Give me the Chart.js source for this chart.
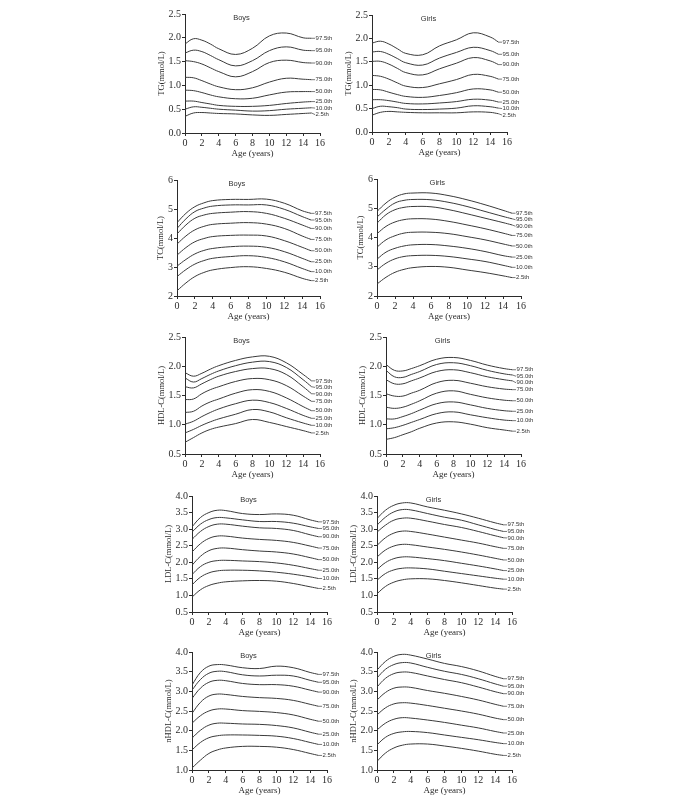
<!DOCTYPE html>
<html>
<head>
<meta charset="utf-8">
<script src="https://cdn.jsdelivr.net/npm/chart.js@4.4.0/dist/chart.umd.min.js"></script>
<style>
  html, body { margin: 0; padding: 0; background: #fff; }
  #page { position: relative; width: 680px; height: 799px; background: #fff; }
  .panel { position: absolute; }
</style>
</head>
<body>
<div id="page"></div>
<script>
// Ages at which each curve is sampled
const ages = [0, 1, 2, 3, 4, 6, 8, 10, 12, 14, 15];
const pctLabels = ['97.5th', '95.0th', '90.0th', '75.0th', '50.0th', '25.0th', '10.0th', '2.5th'];

// TG (mmol/L), rows = percentiles 97.5 -> 2.5
const tgBoys = [
    [1.87, 1.98, 1.95, 1.87, 1.77, 1.65, 1.78, 2.04, 2.10, 2.00, 1.99],
    [1.68, 1.74, 1.71, 1.63, 1.54, 1.41, 1.52, 1.73, 1.81, 1.74, 1.73],
    [1.52, 1.50, 1.45, 1.37, 1.29, 1.18, 1.29, 1.48, 1.53, 1.48, 1.47],
    [1.17, 1.16, 1.10, 1.03, 0.97, 0.91, 0.95, 1.07, 1.15, 1.13, 1.12],
    [0.90, 0.89, 0.85, 0.80, 0.76, 0.72, 0.73, 0.80, 0.86, 0.87, 0.87],
    [0.67, 0.67, 0.64, 0.61, 0.58, 0.56, 0.56, 0.58, 0.62, 0.65, 0.66],
    [0.50, 0.55, 0.54, 0.52, 0.50, 0.48, 0.46, 0.47, 0.50, 0.52, 0.53],
    [0.35, 0.42, 0.43, 0.42, 0.41, 0.40, 0.38, 0.37, 0.39, 0.41, 0.42]
];
const tgGirls = [
    [1.90, 1.94, 1.88, 1.78, 1.68, 1.65, 1.84, 1.97, 2.12, 2.03, 1.92],
    [1.71, 1.72, 1.66, 1.57, 1.48, 1.43, 1.58, 1.70, 1.81, 1.74, 1.66],
    [1.51, 1.51, 1.45, 1.36, 1.27, 1.22, 1.35, 1.47, 1.59, 1.52, 1.44],
    [1.21, 1.19, 1.13, 1.05, 0.98, 0.95, 1.03, 1.12, 1.23, 1.19, 1.13],
    [0.91, 0.90, 0.85, 0.80, 0.76, 0.74, 0.78, 0.84, 0.92, 0.90, 0.85],
    [0.69, 0.69, 0.67, 0.64, 0.61, 0.60, 0.62, 0.65, 0.70, 0.68, 0.64],
    [0.50, 0.55, 0.54, 0.52, 0.49, 0.48, 0.49, 0.51, 0.56, 0.54, 0.51],
    [0.36, 0.42, 0.44, 0.43, 0.42, 0.41, 0.41, 0.41, 0.43, 0.42, 0.39]
];

// TC (mmol/L)
const tcBoys = [
    [4.53, 4.85, 5.08, 5.21, 5.29, 5.33, 5.33, 5.34, 5.20, 4.94, 4.85],
    [4.33, 4.66, 4.91, 5.03, 5.10, 5.14, 5.14, 5.14, 4.99, 4.74, 4.62],
    [4.14, 4.45, 4.68, 4.79, 4.85, 4.89, 4.91, 4.85, 4.68, 4.45, 4.33],
    [3.79, 4.07, 4.28, 4.40, 4.47, 4.51, 4.53, 4.48, 4.33, 4.07, 3.95],
    [3.41, 3.67, 3.87, 3.98, 4.05, 4.09, 4.10, 4.07, 3.91, 3.68, 3.56],
    [3.03, 3.26, 3.45, 3.57, 3.64, 3.70, 3.72, 3.68, 3.53, 3.30, 3.18],
    [2.67, 2.91, 3.10, 3.22, 3.30, 3.36, 3.39, 3.33, 3.18, 2.95, 2.84],
    [2.18, 2.45, 2.67, 2.81, 2.90, 2.98, 3.01, 2.95, 2.82, 2.61, 2.53]
];
const tcGirls = [
    [4.89, 5.18, 5.38, 5.49, 5.52, 5.52, 5.43, 5.29, 5.12, 4.93, 4.83],
    [4.70, 4.97, 5.18, 5.27, 5.30, 5.29, 5.20, 5.06, 4.89, 4.72, 4.64],
    [4.49, 4.78, 4.95, 5.03, 5.06, 5.05, 4.95, 4.81, 4.66, 4.51, 4.43],
    [4.13, 4.38, 4.53, 4.61, 4.64, 4.63, 4.55, 4.43, 4.30, 4.15, 4.07],
    [3.67, 3.92, 4.06, 4.15, 4.18, 4.18, 4.13, 4.03, 3.92, 3.78, 3.71],
    [3.26, 3.50, 3.63, 3.71, 3.75, 3.76, 3.71, 3.63, 3.52, 3.38, 3.33],
    [2.89, 3.12, 3.27, 3.35, 3.38, 3.39, 3.35, 3.27, 3.18, 3.05, 2.98],
    [2.41, 2.64, 2.81, 2.91, 2.97, 3.01, 2.98, 2.89, 2.80, 2.69, 2.63]
];

// HDL-C (mmol/L)
const hdlBoys = [
    [1.89, 1.83, 1.88, 1.95, 2.01, 2.10, 2.16, 2.17, 2.06, 1.86, 1.75],
    [1.80, 1.73, 1.79, 1.86, 1.92, 2.01, 2.07, 2.08, 1.98, 1.77, 1.65],
    [1.65, 1.63, 1.70, 1.77, 1.83, 1.91, 1.96, 1.96, 1.86, 1.65, 1.53],
    [1.43, 1.44, 1.53, 1.60, 1.65, 1.74, 1.79, 1.77, 1.67, 1.49, 1.40],
    [1.21, 1.23, 1.32, 1.39, 1.44, 1.54, 1.60, 1.57, 1.46, 1.31, 1.24],
    [1.01, 1.06, 1.14, 1.21, 1.27, 1.36, 1.42, 1.38, 1.28, 1.16, 1.11],
    [0.86, 0.92, 0.99, 1.05, 1.10, 1.18, 1.26, 1.22, 1.12, 1.03, 0.99],
    [0.70, 0.78, 0.86, 0.92, 0.96, 1.02, 1.09, 1.04, 0.97, 0.90, 0.86]
];
const hdlGirls = [
    [2.03, 1.93, 1.92, 1.96, 2.01, 2.12, 2.15, 2.10, 2.02, 1.96, 1.94],
    [1.93, 1.82, 1.81, 1.86, 1.91, 2.03, 2.06, 2.01, 1.93, 1.87, 1.85],
    [1.77, 1.70, 1.70, 1.75, 1.80, 1.91, 1.94, 1.89, 1.82, 1.77, 1.75],
    [1.53, 1.49, 1.49, 1.54, 1.59, 1.72, 1.76, 1.71, 1.65, 1.61, 1.60],
    [1.30, 1.28, 1.30, 1.35, 1.41, 1.54, 1.58, 1.52, 1.46, 1.42, 1.41],
    [1.10, 1.10, 1.14, 1.19, 1.25, 1.36, 1.39, 1.34, 1.28, 1.24, 1.23],
    [0.93, 0.95, 0.99, 1.04, 1.09, 1.19, 1.22, 1.17, 1.12, 1.08, 1.07],
    [0.75, 0.78, 0.83, 0.88, 0.94, 1.03, 1.05, 1.01, 0.95, 0.91, 0.89]
];

// LDL-C (mmol/L)
const ldlBoys = [
    [3.07, 3.35, 3.50, 3.57, 3.56, 3.47, 3.44, 3.46, 3.42, 3.28, 3.22],
    [2.91, 3.15, 3.29, 3.35, 3.34, 3.28, 3.23, 3.23, 3.18, 3.07, 3.02],
    [2.69, 2.93, 3.08, 3.15, 3.15, 3.09, 3.04, 3.02, 2.96, 2.83, 2.77],
    [2.31, 2.56, 2.72, 2.79, 2.79, 2.73, 2.69, 2.66, 2.60, 2.49, 2.43],
    [1.91, 2.18, 2.35, 2.42, 2.43, 2.38, 2.34, 2.31, 2.25, 2.14, 2.08],
    [1.63, 1.87, 2.00, 2.05, 2.06, 2.04, 2.02, 1.98, 1.91, 1.81, 1.76],
    [1.32, 1.55, 1.68, 1.74, 1.76, 1.76, 1.74, 1.70, 1.64, 1.56, 1.51],
    [0.95, 1.17, 1.30, 1.37, 1.41, 1.44, 1.45, 1.43, 1.36, 1.26, 1.21]
];
const ldlGirls = [
    [3.32, 3.57, 3.72, 3.79, 3.79, 3.67, 3.57, 3.46, 3.33, 3.19, 3.13],
    [3.12, 3.36, 3.52, 3.59, 3.58, 3.47, 3.36, 3.27, 3.13, 2.99, 2.93],
    [2.91, 3.12, 3.27, 3.33, 3.33, 3.24, 3.14, 3.05, 2.93, 2.80, 2.74],
    [2.51, 2.74, 2.88, 2.94, 2.93, 2.85, 2.76, 2.67, 2.58, 2.47, 2.42],
    [2.16, 2.37, 2.49, 2.54, 2.53, 2.46, 2.39, 2.31, 2.22, 2.12, 2.07],
    [1.78, 1.99, 2.11, 2.16, 2.16, 2.11, 2.05, 1.97, 1.89, 1.80, 1.75],
    [1.46, 1.66, 1.77, 1.82, 1.83, 1.80, 1.73, 1.66, 1.59, 1.52, 1.49],
    [1.05, 1.27, 1.40, 1.47, 1.50, 1.50, 1.45, 1.38, 1.30, 1.22, 1.19]
];

// nHDL-C (mmol/L)
const nhdlBoys = [
    [3.16, 3.48, 3.64, 3.68, 3.67, 3.60, 3.58, 3.64, 3.60, 3.48, 3.43],
    [3.03, 3.30, 3.46, 3.51, 3.50, 3.42, 3.39, 3.41, 3.39, 3.28, 3.23],
    [2.82, 3.08, 3.23, 3.28, 3.27, 3.20, 3.17, 3.17, 3.13, 3.03, 2.98],
    [2.44, 2.72, 2.88, 2.93, 2.92, 2.87, 2.84, 2.82, 2.77, 2.67, 2.62],
    [2.19, 2.38, 2.50, 2.55, 2.55, 2.51, 2.49, 2.46, 2.40, 2.29, 2.24],
    [1.81, 2.01, 2.14, 2.19, 2.19, 2.17, 2.16, 2.13, 2.07, 1.96, 1.91],
    [1.51, 1.70, 1.82, 1.87, 1.89, 1.89, 1.88, 1.86, 1.80, 1.70, 1.65],
    [1.05, 1.25, 1.42, 1.51, 1.56, 1.60, 1.60, 1.58, 1.52, 1.42, 1.37]
];
const nhdlGirls = [
    [3.54, 3.76, 3.89, 3.94, 3.92, 3.82, 3.71, 3.63, 3.52, 3.38, 3.32],
    [3.34, 3.56, 3.68, 3.73, 3.72, 3.61, 3.51, 3.43, 3.32, 3.19, 3.13],
    [3.11, 3.33, 3.45, 3.49, 3.48, 3.39, 3.30, 3.22, 3.11, 2.99, 2.94],
    [2.78, 2.97, 3.08, 3.11, 3.10, 3.02, 2.95, 2.87, 2.78, 2.67, 2.62],
    [2.40, 2.58, 2.68, 2.71, 2.70, 2.64, 2.57, 2.50, 2.42, 2.32, 2.28],
    [2.02, 2.19, 2.29, 2.33, 2.32, 2.27, 2.21, 2.14, 2.07, 1.98, 1.94],
    [1.64, 1.83, 1.93, 1.97, 1.98, 1.95, 1.89, 1.83, 1.77, 1.70, 1.67],
    [1.22, 1.43, 1.56, 1.63, 1.66, 1.66, 1.61, 1.55, 1.48, 1.40, 1.37]
];

// Panel layout: plot area [left, top, right, bottom] in page pixels
const panels = [
    { rows: tgBoys,    sex: 'Boys',  yTitle: 'TG(mmol/L)',     yMin: 0,   yMax: 2.5, yStep: 0.5, dec: 1, box: [185, 14, 320, 133],  yw: 28 },
    { rows: tgGirls,   sex: 'Girls', yTitle: 'TG(mmol/L)',     yMin: 0,   yMax: 2.5, yStep: 0.5, dec: 1, box: [372, 15, 507, 132],  yw: 28 },
    { rows: tcBoys,    sex: 'Boys',  yTitle: 'TC(mmol/L)',     yMin: 2,   yMax: 6,   yStep: 1,   dec: 0, box: [177, 180, 320, 296], yw: 21 },
    { rows: tcGirls,   sex: 'Girls', yTitle: 'TC(mmol/L)',     yMin: 2,   yMax: 6,   yStep: 1,   dec: 0, box: [377, 179, 521, 296], yw: 21 },
    { rows: hdlBoys,   sex: 'Boys',  yTitle: 'HDL-C(mmol/L)',  yMin: 0.5, yMax: 2.5, yStep: 0.5, dec: 1, box: [185, 337, 320, 454], yw: 28 },
    { rows: hdlGirls,  sex: 'Girls', yTitle: 'HDL-C(mmol/L)',  yMin: 0.5, yMax: 2.5, yStep: 0.5, dec: 1, box: [386, 337, 521, 454], yw: 28 },
    { rows: ldlBoys,   sex: 'Boys',  yTitle: 'LDL-C(mmol/L)',  yMin: 0.5, yMax: 4.0, yStep: 0.5, dec: 1, box: [192, 496, 327, 612], yw: 28 },
    { rows: ldlGirls,  sex: 'Girls', yTitle: 'LDL-C(mmol/L)',  yMin: 0.5, yMax: 4.0, yStep: 0.5, dec: 1, box: [377, 496, 512, 612], yw: 28 },
    { rows: nhdlBoys,  sex: 'Boys',  yTitle: 'nHDL-C(mmol/L)', yMin: 1.0, yMax: 4.0, yStep: 0.5, dec: 1, box: [192, 652, 327, 770], yw: 28 },
    { rows: nhdlGirls, sex: 'Girls', yTitle: 'nHDL-C(mmol/L)', yMin: 1.0, yMax: 4.0, yStep: 0.5, dec: 1, box: [377, 652, 512, 770], yw: 28 }
];

const TOP_PAD = 8, RIGHT_PAD = 22, X_H = 26;
const ink = '#2b2b2b';
const serif = '"Liberation Serif", "DejaVu Serif", serif';
const sans = '"Liberation Sans", Arial, sans-serif';

// Percentile labels at the end of each curve, nudged apart when crowded
const endLabels = {
    id: 'endLabels',
    afterDatasetsDraw(chart) {
        const ctx = chart.ctx;
        let prev = -Infinity;
        const pts = chart.data.datasets.map((ds, i) => {
            const meta = chart.getDatasetMeta(i);
            const p = meta.data[meta.data.length - 1];
            const ly = Math.max(p.y, prev + 6.5);
            prev = ly;
            return { x: p.x, y: p.y, ly: ly, text: pctLabels[i] };
        });
        ctx.save();
        ctx.font = '6px ' + sans;
        ctx.fillStyle = '#333';
        ctx.strokeStyle = '#555';
        ctx.lineWidth = 0.8;
        ctx.textBaseline = 'middle';
        pts.forEach(p => {
            ctx.beginPath();
            ctx.moveTo(p.x, p.y);
            ctx.lineTo(p.x + 3.5, p.ly);
            ctx.stroke();
            ctx.fillText(p.text, p.x + 4, p.ly);
        });
        ctx.restore();
    }
};

// "Boys" / "Girls" inside the top of the plot
const sexTitle = {
    id: 'sexTitle',
    afterDraw(chart, args, opts) {
        const ctx = chart.ctx;
        ctx.save();
        ctx.font = '7.5px ' + sans;
        ctx.fillStyle = '#333';
        ctx.textAlign = 'center';
        ctx.textBaseline = 'middle';
        ctx.fillText(opts.text, chart.scales.x.getPixelForValue(6.7), chart.chartArea.top + 4);
        ctx.restore();
    }
};

const page = document.getElementById('page');

panels.forEach(pn => {
    const [L, T, R, B] = pn.box;
    const w = (R - L) + pn.yw + RIGHT_PAD;
    const h = (B - T) + TOP_PAD + X_H;

    const div = document.createElement('div');
    div.className = 'panel';
    div.style.left = (L - pn.yw) + 'px';
    div.style.top = (T - TOP_PAD) + 'px';
    div.style.width = w + 'px';
    div.style.height = h + 'px';
    const canvas = document.createElement('canvas');
    canvas.width = w;
    canvas.height = h;
    div.appendChild(canvas);
    page.appendChild(div);

    const datasets = pn.rows.map((row, i) => ({
        label: pctLabels[i],
        data: row.map((v, j) => ({ x: ages[j], y: v })),
        borderColor: '#3a3a3a',
        borderWidth: 1,
        pointRadius: 0,
        fill: false,
        tension: 0.4
    }));

    new Chart(canvas.getContext('2d'), {
        type: 'line',
        data: { datasets: datasets },
        plugins: [endLabels, sexTitle],
        options: {
            responsive: false,
            animation: false,
            devicePixelRatio: 1,
            layout: { padding: { left: 0, top: TOP_PAD, right: RIGHT_PAD, bottom: 0 } },
            plugins: {
                legend: { display: false },
                tooltip: { enabled: false },
                sexTitle: { text: pn.sex }
            },
            scales: {
                x: {
                    type: 'linear',
                    min: 0,
                    max: 16,
                    ticks: { stepSize: 2, autoSkip: false, maxRotation: 0, padding: 1, color: ink, font: { family: serif, size: 10 } },
                    grid: { drawOnChartArea: false, tickLength: 3, color: ink },
                    border: { display: true, color: ink, width: 1 },
                    title: { display: true, text: 'Age (years)', color: ink, padding: 0, font: { family: serif, size: 9 } },
                    afterFit: s => { s.height = X_H; }
                },
                y: {
                    min: pn.yMin,
                    max: pn.yMax,
                    ticks: {
                        stepSize: pn.yStep,
                        padding: 1,
                        color: ink,
                        font: { family: serif, size: 10 },
                        callback: v => Number(v).toFixed(pn.dec)
                    },
                    grid: { drawOnChartArea: false, tickLength: 3, color: ink },
                    border: { display: true, color: ink, width: 1 },
                    title: { display: true, text: pn.yTitle, color: ink, padding: 0, font: { family: serif, size: 8.5 } },
                    afterFit: s => { s.width = pn.yw; }
                }
            }
        }
    });
});
</script>
</body>
</html>
